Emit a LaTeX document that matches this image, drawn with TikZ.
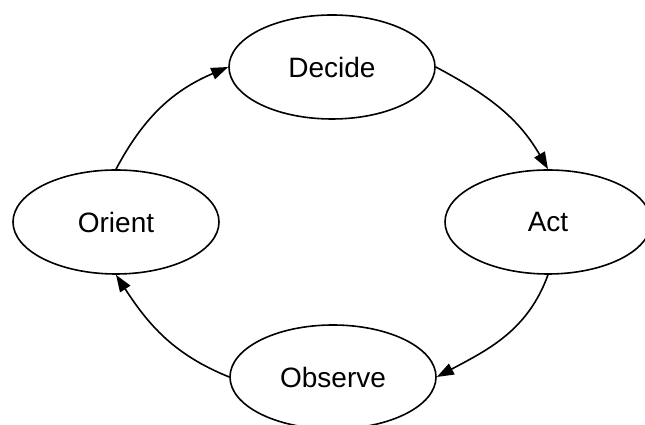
\documentclass[tikz,border=0pt]{standalone}
\usepackage{fontspec}
\setmainfont{Liberation Sans}
\usetikzlibrary{shapes.geometric,arrows.meta}
\begin{document}
\begin{tikzpicture}[x=1pt,y=1pt,
  phase/.style={ellipse,draw,line width=1.6pt,minimum width=206pt,minimum height=104pt,inner sep=0pt,font=\fontsize{28}{30}\selectfont},
  flow/.style={line width=1.6pt,-{Triangle[length=17pt,width=12pt]}}]
\useasboundingbox (0,0) rectangle (645,425);
\node[phase] (decide) at (332,358) {Decide};
\node[phase] (act) at (548,203) {Act};
\node[phase] (orient) at (116,203) {Orient};
\node[phase] (observe) at (333,48) {Observe};
\draw[flow] (orient.north) to[out=62,in=203] (decide.west);
\draw[flow] (decide.east) to[out=-28,in=120] (act.north);
\draw[flow] (act.south) to[out=-110,in=28] (observe.east);
\draw[flow] (observe.west) to[out=158,in=-57] (orient.south);
\end{tikzpicture}
\end{document}
